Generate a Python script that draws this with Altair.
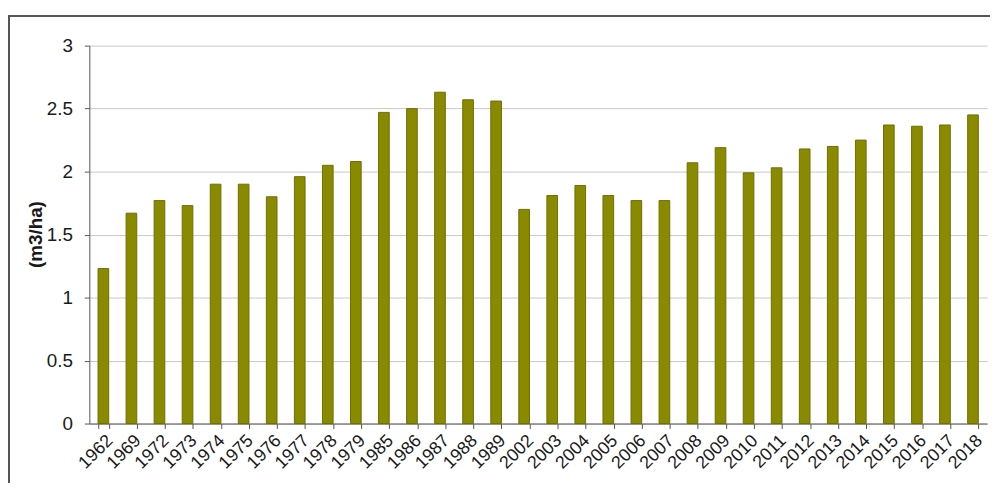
import altair as alt
import pandas as pd

years = ["1962", "1969", "1972", "1973", "1974", "1975", "1976", "1977", "1978", "1979",
         "1985", "1986", "1987", "1988", "1989",
         "2002", "2003", "2004", "2005", "2006", "2007", "2008", "2009", "2010", "2011",
         "2012", "2013", "2014", "2015", "2016", "2017", "2018"]
values = [1.23, 1.67, 1.77, 1.73, 1.90, 1.90, 1.80, 1.96, 2.05, 2.08,
          2.47, 2.50, 2.63, 2.57, 2.56,
          1.70, 1.81, 1.89, 1.81, 1.77, 1.77, 2.07, 2.19, 1.99, 2.03,
          2.18, 2.20, 2.25, 2.37, 2.36, 2.37, 2.45]

df = pd.DataFrame({"year": years, "value": values})

FONT = "Liberation Sans"

bars = alt.Chart(df).mark_bar(
    color="#8a8a00", stroke="#6e6e00", strokeWidth=1
).encode(
    x=alt.X("year:N", sort=None, title=None,
            scale=alt.Scale(paddingInner=0.62, paddingOuter=0.31),
            axis=alt.Axis(labelAngle=-45, labelFontSize=18, labelFont=FONT,
                          labelColor="#1a1a1a", labelPadding=3,
                          tickBand="extent", tickSize=5, tickColor="#555555",
                          domainColor="#555555", grid=False)),
    y=alt.Y("value:Q", title="(m3/ha)",
            scale=alt.Scale(domain=[0, 3], nice=False),
            axis=alt.Axis(values=[0, 0.5, 1, 1.5, 2, 2.5, 3], format="~g",
                          labelFontSize=19, labelFont=FONT, labelColor="#1a1a1a",
                          labelPadding=12, tickSize=5, tickColor="#555555",
                          domainColor="#555555", gridColor="#c8c8c8",
                          titleFont=FONT, titleFontSize=19, titleFontWeight="bold",
                          titleColor="#1a1a1a", titleAngle=-90,
                          titleX=-44, titleY=190, titleBaseline="bottom",
                          titleAlign="center")),
)

frame = alt.Chart(df).mark_rect(
    fill=None, stroke="#555555", strokeWidth=2, clip=False
).encode(
    x=alt.value(-81), x2=alt.value(1000),
    y=alt.value(-30), y2=alt.value(600),
)

chart = alt.layer(frame, bars).properties(
    width=905, height=381,
    autosize=alt.AutoSizeParams(type="none"),
    padding={"left": 82, "top": 36, "right": 3, "bottom": 58},
    background="white",
).configure_view(stroke=None)

chart.save("out.html", embed_options={"renderer": "svg", "actions": False})
